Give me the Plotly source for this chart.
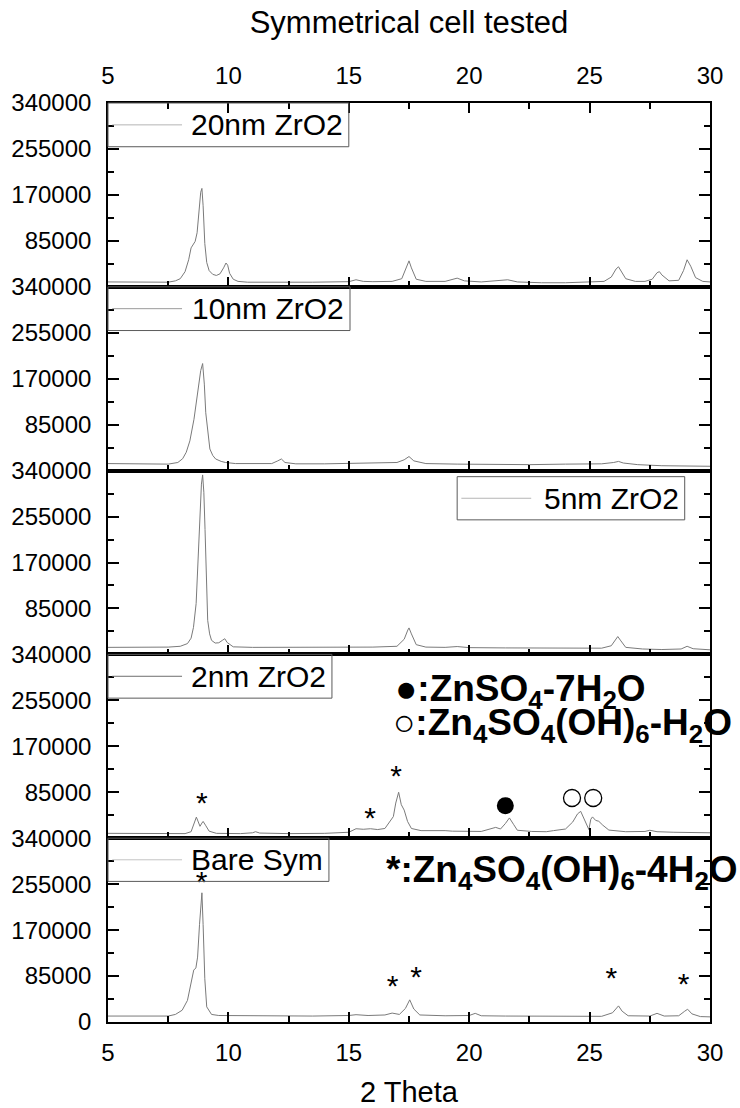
import plotly.graph_objects as go
from plotly.subplots import make_subplots

# ---- XRD patterns (2 theta in degrees, intensity in counts) ----
tt_20nm = [5.0, 6.0, 7.0, 7.5, 7.8, 8.0, 8.2, 8.35, 8.45, 8.55, 8.62, 8.7, 8.78, 8.85, 8.9, 8.95,
           9.02, 9.1, 9.2, 9.35, 9.5, 9.65, 9.8, 9.9, 9.97, 10.05, 10.2, 10.4, 10.8, 11.5, 12.5,
           13.5, 14.5, 15.0, 15.3, 15.6, 16.0, 16.8, 17.2, 17.4, 17.5, 17.6, 17.8, 18.2, 19.0,
           19.5, 19.8, 20.5, 21.3, 21.6, 22.0, 23.0, 24.0, 25.0, 25.6, 25.9, 26.1, 26.2, 26.3,
           26.5, 26.9, 27.3, 27.6, 27.8, 27.9, 28.0, 28.3, 28.7, 28.9, 29.05, 29.2, 29.4, 29.7, 30.0]
int_20nm = [9000, 8500, 8000, 8500, 11000, 15000, 28000, 50000, 72000, 80000, 84000, 100000,
            140000, 175000, 182000, 150000, 80000, 45000, 30000, 23000, 21000, 24000, 35000,
            44000, 40000, 25000, 14000, 10000, 8500, 8000, 8500, 8500, 9000, 9500, 13000, 10000,
            9500, 10000, 15000, 35000, 48000, 35000, 14000, 10000, 10000, 16000, 11000, 9000,
            11000, 13000, 9000, 7500, 7500, 9000, 10000, 18000, 33000, 37000, 30000, 15000,
            10000, 10000, 14000, 26000, 28000, 22000, 11000, 12000, 30000, 50000, 38000, 17000,
            10000, 9000]

tt_10nm = [5.0, 6.5, 7.5, 7.9, 8.1, 8.25, 8.4, 8.57, 8.73, 8.85, 8.93, 9.0, 9.06, 9.15, 9.23,
           9.35, 9.47, 9.7, 9.88, 10.3, 11.0, 11.8, 12.05, 12.2, 12.35, 12.8, 14.0, 15.0, 16.0,
           17.0, 17.3, 17.5, 17.7, 18.2, 19.5, 21.0, 22.5, 24.0, 25.5, 26.0, 26.2, 26.4, 27.0,
           28.0, 29.0, 30.0]
int_10nm = [13000, 12000, 12000, 15000, 22000, 34000, 55000, 95000, 150000, 185000, 198000,
            160000, 107000, 65000, 40000, 28000, 21500, 17000, 15000, 13000, 12500, 13000, 18000,
            21500, 15000, 12500, 12500, 13000, 13500, 15000, 20000, 26000, 18000, 13000, 12000,
            11000, 11000, 12000, 12500, 15000, 17000, 14000, 11000, 9000, 8500, 8000]

tt_5nm = [5.0, 6.5, 7.5, 8.0, 8.3, 8.45, 8.55, 8.66, 8.75, 8.82, 8.88, 8.93, 8.98, 9.03, 9.09,
          9.14, 9.22, 9.3, 9.45, 9.6, 9.75, 9.85, 9.95, 10.2, 11.0, 12.5, 14.0, 15.0, 16.0, 17.0,
          17.3, 17.45, 17.5, 17.6, 17.8, 18.2, 19.0, 19.5, 20.0, 21.5, 23.0, 24.5, 25.5, 25.9,
          26.1, 26.17, 26.3, 26.5, 27.2, 28.0, 28.8, 29.05, 29.3, 30.0]
int_5nm = [13000, 13000, 13500, 15000, 20000, 30000, 50000, 94000, 180000, 261000, 315000,
           332000, 300000, 231000, 140000, 63000, 38000, 26000, 21000, 21500, 26000, 29000,
           22000, 14000, 13000, 13000, 13000, 13500, 13500, 15000, 28000, 45000, 49000, 38000,
           18000, 13500, 13000, 14500, 12500, 12000, 11500, 11000, 11500, 16000, 30000, 33000,
           25000, 13000, 10000, 9000, 10000, 15000, 10500, 8500]

tt_2nm = [5.0, 6.5, 7.5, 8.2, 8.45, 8.55, 8.67, 8.75, 8.82, 8.9, 8.95, 9.05, 9.2, 9.5, 10.5,
          11.0, 11.13, 11.3, 12.5, 14.0, 15.0, 15.3, 15.6, 15.9, 16.2, 16.5, 16.75, 16.85, 16.95,
          17.07, 17.18, 17.3, 17.44, 17.6, 18.0, 18.5, 19.0, 19.3, 20.0, 20.5, 21.1, 21.3, 21.5,
          21.67, 21.85, 22.0, 22.6, 23.2, 23.5, 24.0, 24.3, 24.5, 24.63, 24.75, 24.9, 24.97,
          25.05, 25.12, 25.25, 25.38, 25.55, 25.8, 26.5, 27.3, 27.5, 27.8, 28.5, 29.3, 30.0]
int_2nm = [9000, 8500, 8000, 8500, 12000, 25000, 39000, 30000, 22000, 28000, 31000, 24000,
           13000, 9000, 8500, 10000, 12000, 9500, 8500, 9000, 11000, 17500, 16500, 17500, 16000,
           18000, 34000, 40000, 65000, 85000, 62000, 52000, 31000, 18000, 14000, 14500, 14000,
           13000, 12000, 12500, 20000, 17000, 27000, 37500, 25000, 14700, 12500, 12000, 14000,
           17000, 30000, 45000, 49700, 38000, 22000, 16000, 35000, 39400, 33000, 31300, 24000,
           15000, 12000, 12500, 14700, 12000, 11000, 10500, 10000]

tt_bare = [5.0, 6.5, 7.5, 7.8, 8.08, 8.3, 8.45, 8.56, 8.65, 8.72, 8.8, 8.86, 8.9, 8.95, 9.02,
           9.1, 9.3, 9.6, 10.5, 12.0, 13.5, 15.0, 15.3, 15.8, 16.5, 16.8, 17.1, 17.35, 17.53,
           17.7, 17.95, 19.0, 20.0, 20.25, 20.5, 21.5, 23.0, 24.5, 25.5, 25.95, 26.1, 26.2,
           26.35, 26.6, 27.5, 27.8, 28.1, 28.7, 28.95, 29.07, 29.25, 29.6, 30.0]
int_bare = [11000, 10500, 11000, 14000, 21800, 40000, 75000, 96000, 100000, 120000, 180000,
            230000, 239000, 180000, 80000, 28000, 14000, 12000, 11500, 11000, 11000, 12000,
            13500, 12000, 13000, 16500, 14000, 25000, 41000, 24000, 13000, 11500, 12000, 16000,
            11500, 11000, 10500, 10000, 10500, 17000, 26000, 29800, 20000, 11500, 11000, 16000,
            11000, 11500, 20000, 23600, 15000, 10000, 9500]

series_x = [tt_20nm, tt_10nm, tt_5nm, tt_2nm, tt_bare]
series_y = [int_20nm, int_10nm, int_5nm, int_2nm, int_bare]
series_names = ["20nm ZrO2", "10nm ZrO2", "5nm ZrO2", "2nm ZrO2", "Bare Sym"]

# ---- phase markers ----
star_2nm_x = [8.9, 15.88, 16.96]
star_2nm_y = [61000, 33500, 111000]
hept_2nm_x = [21.5]          # ZnSO4-7H2O
hept_2nm_y = [60200]
mono_2nm_x = [24.27, 25.15]  # Zn4SO4(OH)6-H2O
mono_2nm_y = [74400, 74400]
star_bare_x = [8.89, 16.82, 17.79, 25.9, 28.9]
star_bare_y = [255000, 62400, 78000, 76800, 65600]

y_tick_vals = [0, 85000, 170000, 255000, 340000]
x_tick_vals = [5, 10, 15, 20, 25, 30]

FONT = "Arial, Liberation Sans, sans-serif"
LINE_GREY = "#7a7a7a"

fig = make_subplots(rows=5, cols=1, shared_xaxes=True, vertical_spacing=0)

for i, (xs, ys, nm) in enumerate(zip(series_x, series_y, series_names), start=1):
    fig.add_trace(go.Scatter(x=xs, y=ys, mode="lines", name=nm, showlegend=False,
                             line=dict(color=LINE_GREY, width=1)), row=i, col=1)

star_font = dict(family=FONT, size=30, color="black")
fig.add_trace(go.Scatter(x=star_2nm_x, y=star_2nm_y, mode="text", text=["*"] * len(star_2nm_x),
                         textfont=star_font, showlegend=False, cliponaxis=False), row=4, col=1)
fig.add_trace(go.Scatter(x=hept_2nm_x, y=hept_2nm_y, mode="markers", showlegend=False,
                         marker=dict(symbol="circle", size=17, color="black")), row=4, col=1)
fig.add_trace(go.Scatter(x=mono_2nm_x, y=mono_2nm_y, mode="markers", showlegend=False,
                         marker=dict(symbol="circle-open", size=17, color="black",
                                     line=dict(width=1.3, color="black"))), row=4, col=1)
fig.add_trace(go.Scatter(x=star_bare_x, y=star_bare_y, mode="text", text=["*"] * len(star_bare_x),
                         textfont=star_font, showlegend=False, cliponaxis=False), row=5, col=1)

axis_common = dict(showline=True, linecolor="black", linewidth=1.6, ticks="inside",
                   tickcolor="black", tickwidth=2, showgrid=False, zeroline=False,
                   automargin=False,
                   tickfont=dict(family=FONT, size=24, color="black"))

for i in range(1, 6):
    # x axes
    xa = dict(axis_common, range=[5, 30], tickvals=x_tick_vals, ticklen=10,
              minor=dict(ticks="inside", dtick=2.5, tick0=5, ticklen=6, tickwidth=2,
                         tickcolor="black", showgrid=False))
    if i == 1:
        xa.update(side="top", showticklabels=True, mirror="ticks", ticklabelstandoff=8,
                  title=dict(text="Symmetrical cell tested", standoff=19,
                             font=dict(family=FONT, size=31, color="black")))
    elif i == 5:
        xa.update(side="bottom", showticklabels=True, mirror=True, ticklabelstandoff=8,
                  title=dict(text="2 Theta", standoff=18,
                             font=dict(family=FONT, size=29, color="black")))
    else:
        xa.update(side="bottom", showticklabels=False, mirror=True)
    fig.update_xaxes(xa, row=i, col=1)

    # y axes
    tv = y_tick_vals if i == 5 else y_tick_vals[1:]
    fig.update_yaxes(axis_common, range=[0, 340000], tickvals=tv, ticktext=[str(v) for v in tv],
                     ticklen=11, mirror="ticks", ticklabelstandoff=10,
                     minor=dict(ticks="inside", dtick=42500, tick0=0, ticklen=6, tickwidth=2,
                                tickcolor="black", showgrid=False),
                     row=i, col=1)

# ---- per-panel legend boxes (line sample + name) ----
legend_boxes = [
    # x0, x1, y0, y1 within each panel's domain
    (0.0, 0.400, 0.762, 1.0),
    (0.0, 0.402, 0.762, 1.0),
    (0.580, 0.958, 0.732, 0.967),
    (0.0, 0.372, 0.762, 1.0),
    (0.0, 0.367, 0.765, 1.0),
]
legend_line_colors = ["#b5b5b5", "#9a9a9a", "#b5b5b5", "#6e6e6e", "#c4c4c4"]
shapes = []
annotations = []
for i, ((x0, x1, y0, y1), nm, lc) in enumerate(zip(legend_boxes, series_names, legend_line_colors), start=1):
    xr = "x domain" if i == 1 else f"x{i} domain"
    yr = "y domain" if i == 1 else f"y{i} domain"
    shapes.append(dict(type="rect", xref=xr, yref=yr, x0=x0, x1=x1, y0=y0, y1=y1,
                       line=dict(color="#5a5a5a", width=1), fillcolor="rgba(0,0,0,0)", layer="above"))
    ym = (y0 + y1) / 2
    shapes.append(dict(type="line", xref=xr, yref=yr, x0=x0 + 0.007, x1=x0 + 0.123, y0=ym, y1=ym,
                       line=dict(color=lc, width=1)))
    annotations.append(dict(xref=xr, yref=yr, x=x1 - 0.006, y=ym, xanchor="right", yanchor="middle",
                            text=nm, showarrow=False,
                            font=dict(family=FONT, size=30, color="black")))

# ---- phase key ----
key_font = dict(family=FONT, size=37, color="black", weight="bold")
annotations += [
    dict(xref="paper", yref="paper", x=0.474, y=0.360, xanchor="left", yanchor="middle",
         text="●:ZnSO<sub>4</sub>-7H<sub>2</sub>O", showarrow=False, font=key_font),
    dict(xref="paper", yref="paper", x=0.470, y=0.323, xanchor="left", yanchor="middle",
         text="○:Zn<sub>4</sub>SO<sub>4</sub>(OH)<sub>6</sub>-H<sub>2</sub>O", showarrow=False,
         font=key_font),
    dict(xref="paper", yref="paper", x=0.458, y=0.163, xanchor="left", yanchor="middle",
         text="*:Zn<sub>4</sub>SO<sub>4</sub>(OH)<sub>6</sub>-4H<sub>2</sub>O", showarrow=False,
         font=key_font),
]

fig.update_layout(width=740, height=1108, margin=dict(l=108, r=30, t=103, b=86),
                  paper_bgcolor="white", plot_bgcolor="white", showlegend=False,
                  font=dict(family=FONT, color="black"),
                  shapes=shapes, annotations=annotations)

fig.write_html("out.html")
